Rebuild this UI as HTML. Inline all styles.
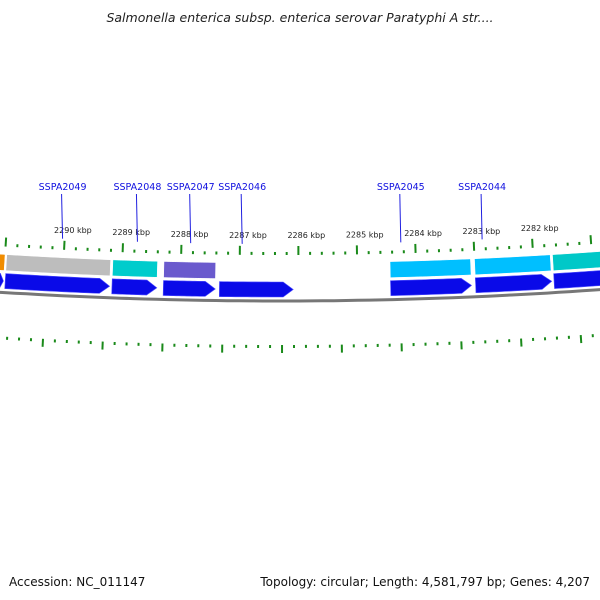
<!DOCTYPE html>
<html><head><meta charset="utf-8"><style>
body{margin:0;background:#fff;width:600px;height:600px;overflow:hidden}
svg{display:block}
text{font-family:"DejaVu Sans","Liberation Sans",sans-serif}
</style></head><body>
<svg id="c" width="600" height="600">
<text x="300" y="22" text-anchor="middle" font-size="12.5" font-style="italic" fill="#222">Salmonella enterica subsp. enterica serovar Paratyphi A str....</text>
<text x="9" y="586" font-size="12" fill="#111">Accession: NC_011147</text>
<text x="590" y="586" font-size="12" fill="#111" text-anchor="end">Topology: circular; Length: 4,581,797 bp; Genes: 4,207</text>
<g id="g"></g>
</svg>
<script>
const tickLabels=[2290,2289,2288,2287,2286,2285,2284,2283,2282];
const geneNames=["SSPA2049","SSPA2048","SSPA2047","SSPA2046","SSPA2045","SSPA2044","gene-next","gene-prev"];
const geneStart=[2290.97,2289.16,2288.29,2287.34,2284.44,2283.00,2281.67,2291.2];
const geneEnd=[2289.20,2288.40,2287.41,2286.09,2283.07,2281.71,2280.3,2291.0];
const geneBand=["#bdbdbd","#00cccc","#6a5acd",null,"#00bfff","#00bfff","#00c8c8","#f08c00"];
const geneLabelX=[2290.03,2288.75,2287.84,2286.96,2284.25,2282.86,null,null];

const NS="http://www.w3.org/2000/svg",G=document.getElementById('g');
const CX=280,CY=-4200;
function th(k){return (64+(2290-k)*58.6-CX)/4455;}
function pt(k,r){const t=th(k);return [CX+r*Math.sin(t),CY+r*Math.cos(t)];}
function mk(tag,attrs){const e=document.createElementNS(NS,tag);for(const a in attrs)e.setAttribute(a,attrs[a]);G.appendChild(e);return e;}
function arcPath(k1,k2,r1,r2){const n=20;let d="";for(let i=0;i<=n;i++){const p=pt(k1+(k2-k1)*i/n,r1);d+=(i?"L":"M")+p[0].toFixed(2)+","+p[1].toFixed(2);}for(let i=n;i>=0;i--){const p=pt(k1+(k2-k1)*i/n,r2);d+="L"+p[0].toFixed(2)+","+p[1].toFixed(2);}return d+"Z";}
// backbone
let d="";for(let i=0;i<=60;i++){const p=pt(2291.2-i*0.2,4501);d+=(i?"L":"M")+p[0].toFixed(1)+","+p[1].toFixed(1);}
const bb=mk('path',{d:d,fill:"none",stroke:"#777",'stroke-width':3});


// ticks
for(let i=0;i<=60;i++){const k=2291.2-i*0.2;const major=Math.abs(k-Math.round(k))<0.01;
 const a=pt(k,4455),b=pt(k,major?4446:4452);
 const t=mk('line',{x1:a[0],y1:a[1],x2:b[0],y2:b[1],stroke:"#1a8a1a",'stroke-width':2});
 
 }
tickLabels.forEach(k=>{const p=pt(k,4438);const t=mk('text',{x:p[0]+8,y:p[1],'font-size':8,'text-anchor':'middle',fill:"#222"});t.textContent=k+" kbp";
 
 });
// inner ticks ring
for(let i=0;i<=60;i++){const k=2291.25-i*0.2+0.03;const major=i%5===0;
 const a=pt(k,4545),b=pt(k,major?4553:4548);
 const t=mk('line',{x1:a[0],y1:a[1],x2:b[0],y2:b[1],stroke:"#1a8a1a",'stroke-width':2});
 
 }
// genes
geneStart.forEach((s,i)=>{const e=geneEnd[i];
 if(geneBand[i]){const b=mk('path',{d:arcPath(s,e,4463,4479),fill:geneBand[i],stroke:"#fff",'stroke-width':0.5});
  
  }
 const tip=Math.min(0.17,Math.abs(s-e)*0.3);const n=16;let p="";
 for(let j=0;j<=n;j++){const q=pt(s+(e+tip-s)*j/n,4482);p+=(j?"L":"M")+q[0].toFixed(2)+","+q[1].toFixed(2);}
 const m=pt(e,4489.5);p+="L"+m[0].toFixed(2)+","+m[1].toFixed(2);
 for(let j=n;j>=0;j--){const q=pt(s+(e+tip-s)*j/n,4497);p+="L"+q[0].toFixed(2)+","+q[1].toFixed(2);}
 const a=mk('path',{d:p+"Z",fill:"#0a0ae8",stroke:"#5050ff",'stroke-width':0.6});
 
 
 if(geneLabelX[i]!==null){const q=pt(geneLabelX[i],4450);const lx=q[0];
  const l=mk('line',{x1:lx-1,y1:194,x2:lx,y2:q[1]-6,stroke:"#2020e0",'stroke-width':1});
  
  
  const t=mk('text',{x:lx,y:190,'font-size':9.5,'text-anchor':'middle',fill:"#1010e0"});t.textContent=geneNames[i];
  
  }
});
</script>
</body></html>
